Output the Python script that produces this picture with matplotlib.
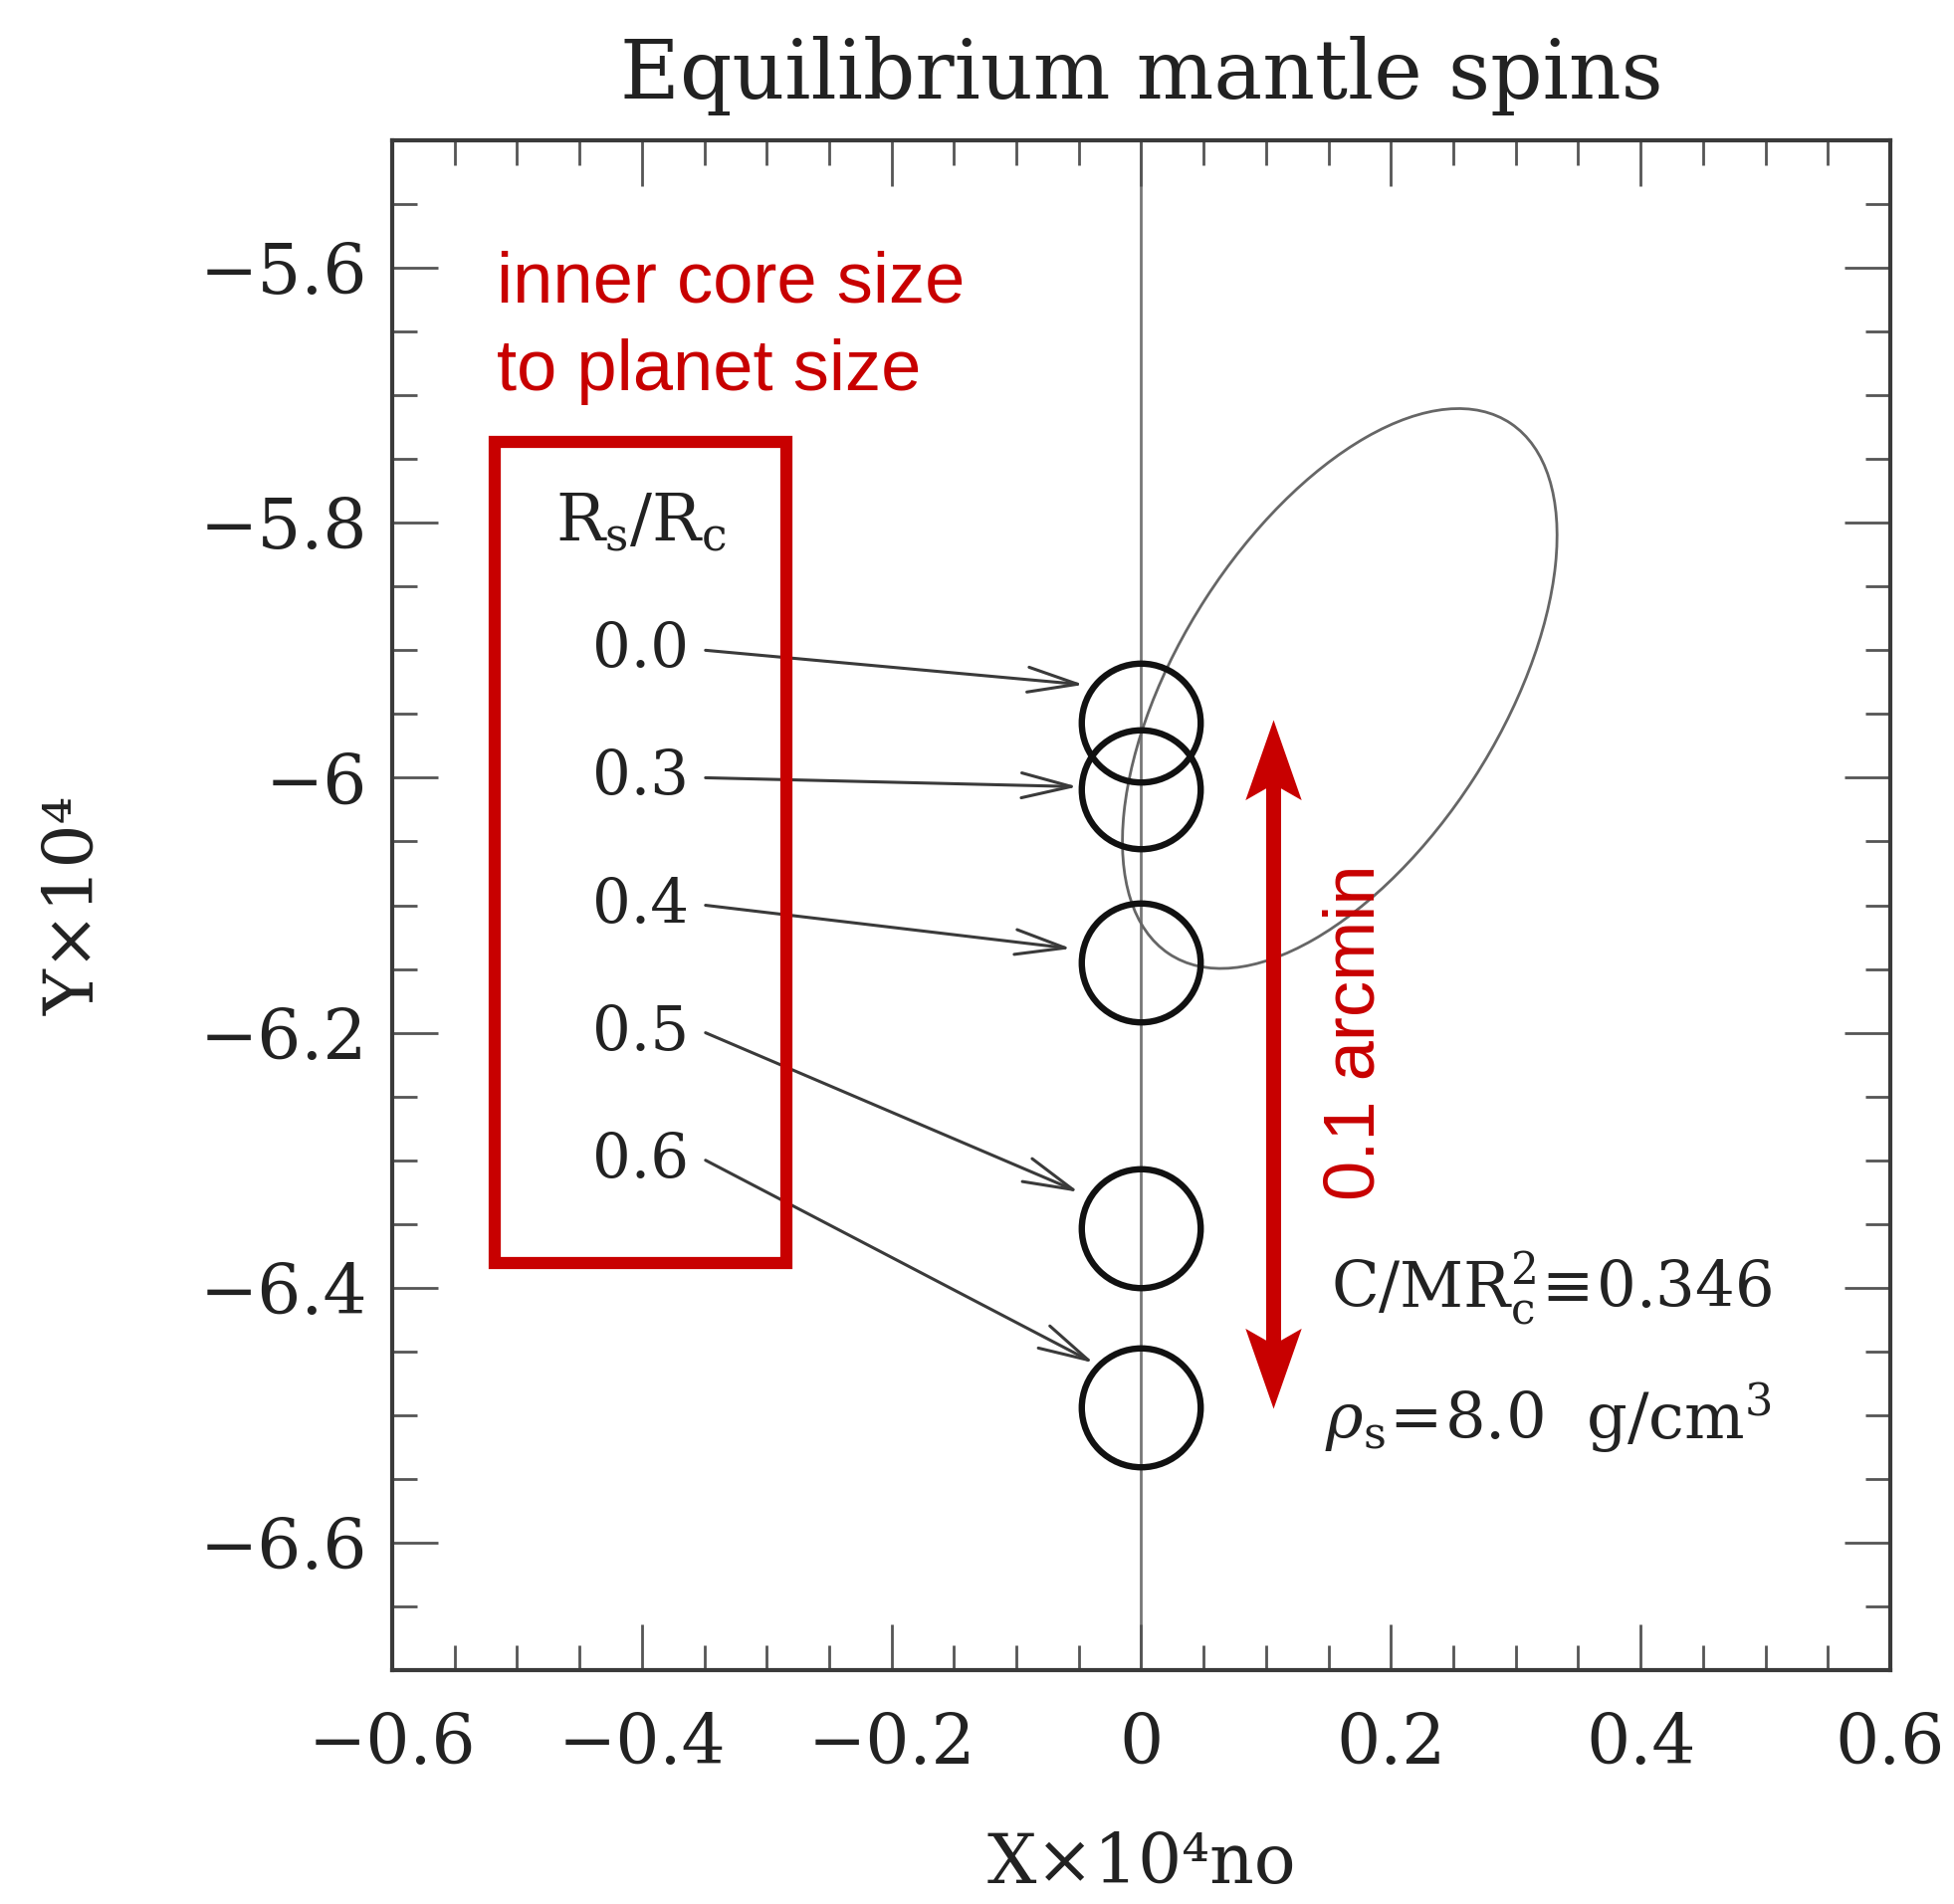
import matplotlib.pyplot as plt
from matplotlib.patches import Ellipse, Rectangle
from matplotlib.path import Path
from matplotlib.ticker import MultipleLocator

plt.rcParams['mathtext.fontset'] = 'dejavuserif'
SERIF = ['DejaVu Serif']
SANS = ['Liberation Sans', 'DejaVu Sans']
RED = '#c80000'

# ---------- data ----------
ratio_labels = ["0.0", "0.3", "0.4", "0.5", "0.6"]
spin_x = [0.0, 0.0, 0.0, 0.0, 0.0]
spin_y = [-5.957, -6.009, -6.145, -6.353, -6.494]

label_x = -0.401
label_y = [-5.9, -6.0, -6.1, -6.2, -6.3]
arrow_start_x = -0.349
arrow_tip_x = [-0.046, -0.051, -0.056, -0.050, -0.038]
arrow_tip_y = [-5.927, -6.007, -6.134, -6.325, -6.459]

# tilted ellipse (center, full width, full height, angle in degrees)
ell_center = (0.159, -5.93)
ell_width = 0.498
ell_height = 0.257
ell_angle = 56.6

x_ticks = [-0.6, -0.4, -0.2, 0.0, 0.2, 0.4, 0.6]
x_ticklabels = ["\u22120.6", "\u22120.4", "\u22120.2", "0", "0.2", "0.4", "0.6"]
y_ticks = [-6.6, -6.4, -6.2, -6.0, -5.8, -5.6]
y_ticklabels = ["\u22126.6", "\u22126.4", "\u22126.2", "\u22126", "\u22125.8", "\u22125.6"]

# red overlay annotations
box_x0, box_y0, box_w, box_h = -0.518, -6.3805, 0.234, 0.6439
scale_x = 0.106
scale_top, scale_bottom = -5.954, -6.4946

# ---------- figure ----------
fig = plt.figure(figsize=(19.63, 19.13), dpi=100)
ax = fig.add_axes([0.2007, 0.1228, 0.7667, 0.8035])
ax.set_xlim(-0.6, 0.6)
ax.set_ylim(-6.7, -5.5)

ax.axvline(0, color='#777777', lw=2, zorder=1)

ell = Ellipse(ell_center, ell_width, ell_height, angle=ell_angle,
              fill=False, ec='#666666', lw=2)
ax.add_patch(ell)

ax.plot(spin_x, spin_y, 'o', ms=86, mfc='none', mec='#111111', mew=4.6, zorder=3)

for lab, ly, tx, ty in zip(ratio_labels, label_y, arrow_tip_x, arrow_tip_y):
    ax.text(label_x, ly, lab, ha='center', va='center', fontsize=44,
            family=SERIF, color='#222222')
    ax.annotate('', xy=(tx, ty), xytext=(arrow_start_x, ly),
                arrowprops=dict(arrowstyle='->,head_length=1.0,head_width=0.25',
                                mutation_scale=36, color='#3a3a3a', lw=2.2,
                                shrinkA=0, shrinkB=0))

ax.text(label_x, -5.8, r'$\mathrm{R_s/R_c}$', ha='center', va='center',
        fontsize=47, color='#222222')

# red box and labels
ax.add_patch(Rectangle((box_x0, box_y0), box_w, box_h, fill=False,
                       ec=RED, lw=8.8, zorder=4))
ax.text(-0.516, -5.627, 'inner core size', fontsize=52, family=SANS,
        color=RED, ha='left', va='baseline')
ax.text(-0.516, -5.6956, 'to planet size', fontsize=52, family=SANS,
        color=RED, ha='left', va='baseline')

# red double arrow
shorten = 0.045
ax.plot([scale_x, scale_x], [scale_top - shorten, scale_bottom + shorten],
        color=RED, lw=10.8, solid_capstyle='butt', zorder=4)
up_head = Path([(0, 0), (0.35, -1), (0, -0.8), (-0.35, -1), (0, 0)],
               [Path.MOVETO, Path.LINETO, Path.LINETO, Path.LINETO, Path.CLOSEPOLY])
down_head = Path([(0, 0), (0.35, 1), (0, 0.8), (-0.35, 1), (0, 0)],
                 [Path.MOVETO, Path.LINETO, Path.LINETO, Path.LINETO, Path.CLOSEPOLY])
ax.plot([scale_x], [scale_top], marker=up_head, ms=116, color=RED, mew=0, zorder=5)
ax.plot([scale_x], [scale_bottom], marker=down_head, ms=116, color=RED, mew=0, zorder=5)
ax.text(0.172, -6.2, '0.1 arcmin', rotation=90, fontsize=52, family=SANS,
        color=RED, ha='center', va='center')

ax.text(0.152, -6.4, r'$\mathrm{C/MR_c^2\!\equiv\!0.346}$', fontsize=45,
        color='#222222', ha='left', va='center')
ax.text(0.147, -6.502, r'$\rho_\mathrm{s}\!=\!\mathrm{8.0\ \ g/cm^3}$', fontsize=46,
        color='#222222', ha='left', va='center')

# axes styling
ax.set_xticks(x_ticks)
ax.set_xticklabels(x_ticklabels)
ax.set_yticks(y_ticks)
ax.set_yticklabels(y_ticklabels)
ax.xaxis.set_minor_locator(MultipleLocator(0.05))
ax.yaxis.set_minor_locator(MultipleLocator(0.05))
ax.tick_params(which='both', direction='in', top=True, right=True,
               color='#555555', width=2)
ax.tick_params(which='major', length=33)
ax.tick_params(which='minor', length=18)
ax.tick_params(axis='y', pad=18, labelsize=50)
ax.tick_params(axis='x', pad=30, labelsize=50)
for lbl in ax.get_xticklabels() + ax.get_yticklabels():
    lbl.set_family(SERIF)
    lbl.set_color('#222222')
for sp in ax.spines.values():
    sp.set_linewidth(3)
    sp.set_color('#3a3a3a')

ax.set_title('Equilibrium mantle spins', fontsize=59, family=SERIF,
             color='#222222', pad=30)
ax.set_xlabel('X\u00d710\u2074no', fontsize=50, family=SERIF, color='#222222')
ax.set_ylabel('Y\u00d710\u2074', fontsize=50, family=SERIF, color='#222222')
ax.xaxis.set_label_coords(0.5, -0.105)
ax.yaxis.set_label_coords(-0.19, 0.5)

fig.savefig('out.png', dpi=100)
